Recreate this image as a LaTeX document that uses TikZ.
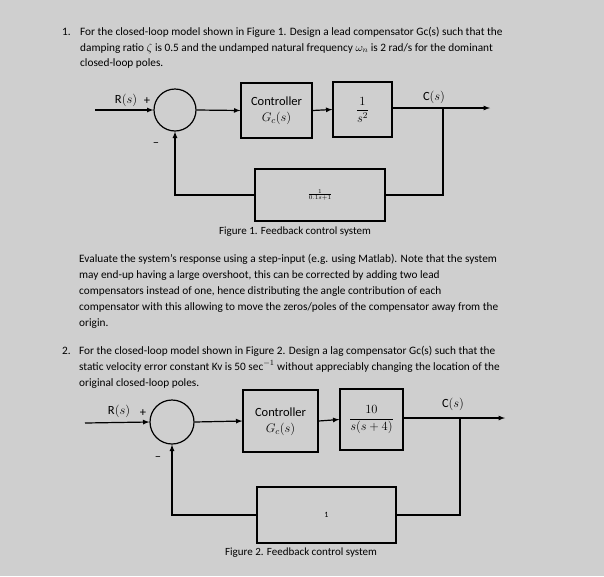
\RequirePackage{fix-cm}
\documentclass[tikz,border=0pt]{standalone}
\usepackage{fontspec}
\setmainfont{Carlito}
\DeclareMathSizes{12.5}{12.5}{9}{7}
\DeclareMathSizes{11.3}{11.3}{8}{6}
\DeclareMathSizes{8}{8}{6}{5}
\begin{document}
\begin{tikzpicture}[x=1pt,y=-1pt,
  txt/.style={anchor=base west,inner sep=0,font=\fontsize{11.3}{13}\selectfont},
  blk/.style={draw,line width=1.2pt,inner sep=0,font=\fontsize{12.5}{16}\selectfont},
  lin/.style={line width=1.2pt},
  arr/.style={lin,-latex},
  sum/.style={draw,circle,line width=1.2pt,inner sep=0},
  lab/.style={inner sep=0,font=\fontsize{12.5}{15}\selectfont}]
\fill[gray!38!white] (0,0) rectangle (604,576);
\useasboundingbox (0,0) rectangle (604,576);
% Question 1
\node[txt] (n1) at (62,35) {1.};
\node[txt] (q1a) at (80,35) {For the closed-loop model shown in Figure 1. Design a lead compensator Gc(s) such that the};
\node[txt] (q1b) at (80,51) {damping ratio $\zeta$ is 0.5 and the undamped natural frequency $\omega_n$ is 2 rad/s for the dominant};
\node[txt] (q1c) at (80,66) {closed-loop poles.};
% Figure 1
\node[sum,minimum size=42pt] (s1) at (175,110) {};
\node[blk,minimum width=71pt,minimum height=55pt] (c1) at (276.5,110.5) {\begin{tabular}{c}Controller\\$G_c(s)$\end{tabular}};
\node[blk,minimum width=59pt,minimum height=55pt] (p1) at (362.5,109.5) {$\displaystyle\frac{1}{s^2}$};
\node[blk,minimum width=130pt,minimum height=52pt,font=\fontsize{8}{9}\selectfont] (h1) at (320,195) {$\frac{1}{0.1s+1}$};
\coordinate (in1) at (95,110);
\coordinate (out1) at (490,108);
\coordinate (br1) at (443,108);
\draw[arr] (in1) -- (s1.west);
\draw[arr] (s1.east) -- (c1.west);
\draw[arr] (c1.east) -- (p1.west);
\draw[arr] (p1.east |- out1) -- (out1);
\draw[lin] (br1) |- (h1.east);
\draw[arr] (h1.west) -| (s1.south);
\node[lab] (r1) at (126,100) {R$(s)$};
\node[lab] (pl1) at (147,101) {+};
\node[lab] (mi1) at (156,145) {--};
\node[lab] (o1) at (434,97) {C$(s)$};
\node[lab,font=\fontsize{11}{13}\selectfont] (f1) at (295,232) {Figure 1. Feedback control system};
% paragraph
\node[txt] (p1a) at (79,262) {Evaluate the system's response using a step-input (e.g. using Matlab). Note that the system};
\node[txt] (p1b) at (79,278) {may end-up having a large overshoot, this can be corrected by adding two lead};
\node[txt] (p1c) at (79,294) {compensators instead of one, hence distributing the angle contribution of each};
\node[txt] (p1d) at (79,310) {compensator with this allowing to move the zeros/poles of the compensator away from the};
\node[txt] (p1e) at (79,326) {origin.};
% Question 2
\node[txt] (n2) at (62,354) {2.};
\node[txt] (q2a) at (79,354) {For the closed-loop model shown in Figure 2. Design a lag compensator Gc(s) such that the};
\node[txt] (q2b) at (79,370) {static velocity error constant Kv is 50 sec$^{-1}$ without appreciably changing the location of the};
\node[txt] (q2c) at (79,386) {original closed-loop poles.};
% Figure 2
\node[sum,minimum size=44pt] (s2) at (172,422) {};
\node[blk,minimum width=75pt,minimum height=62pt] (c2) at (280.5,421) {\begin{tabular}{c}Controller\\$G_c(s)$\end{tabular}};
\node[blk,minimum width=63pt,minimum height=61pt] (p2) at (371.5,419.5) {$\displaystyle\frac{10}{s(s+4)}$};
\node[blk,minimum width=139pt,minimum height=56pt,font=\fontsize{8}{9}\selectfont] (h2) at (326.5,515) {1};
\coordinate (in2) at (85,423);
\coordinate (out2) at (505,418);
\coordinate (br2) at (460,418);
\draw[arr] (in2) -- (s2.west);
\draw[arr] (s2.east) -- (c2.west);
\draw[arr] (c2.east) -- (p2.west);
\draw[arr] (p2.east |- out2) -- (out2);
\draw[lin] (br2) |- (h2.east);
\draw[arr] (h2.west) -| (s2.south);
\node[lab] (r2) at (119,411) {R$(s)$};
\node[lab] (pl2) at (143,413) {+};
\node[lab] (mi2) at (158,459) {--};
\node[lab] (o2) at (453,404) {C$(s)$};
\node[lab,font=\fontsize{11}{13}\selectfont] (f2) at (301,553) {Figure 2. Feedback control system};
\end{tikzpicture}
\end{document}
